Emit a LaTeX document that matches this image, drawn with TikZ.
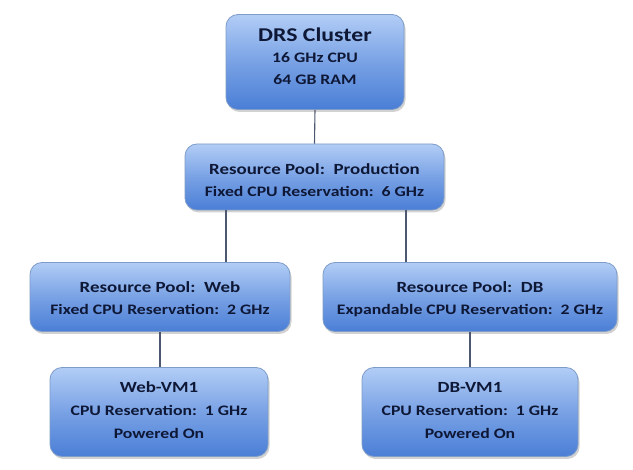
\documentclass[tikz,border=0pt]{standalone}
\usepackage{fontspec}
\setmainfont{Carlito}
\usetikzlibrary{shadows}
\definecolor{boxtop}{HTML}{B2CDF6}
\definecolor{boxbot}{HTML}{4A7ED6}
\definecolor{boxedge}{HTML}{7E9CC8}
\definecolor{txt}{HTML}{0E1836}
\definecolor{conn}{HTML}{4C5870}
\newcommand{\wtxt}[1]{\scalebox{1.22}[1]{#1}}
\tikzset{
  poolbox/.style={draw=boxedge, line width=0.8pt, rounded corners=12pt,
    top color=boxtop, bottom color=boxbot, middle color=boxtop!45!boxbot,
    drop shadow={opacity=0.35, shadow xshift=1.5pt, shadow yshift=-2.5pt},
    inner sep=0pt},
  title/.style={anchor=base, inner sep=0pt, text=txt, font=\bfseries\fontsize{15.5}{18}\selectfont},
  big/.style={anchor=base, inner sep=0pt, text=txt, font=\bfseries\fontsize{19.5}{22}\selectfont},
  detail/.style={anchor=base, inner sep=0pt, text=txt, font=\bfseries\fontsize{14.5}{17}\selectfont},
  link/.style={draw=conn, line width=1.1pt}
}
\begin{document}
\begin{tikzpicture}[x=1pt,y=-1pt]
\useasboundingbox (0,0) rectangle (633,470);
\fill[white] (0,0) rectangle (633,470);
% boxes
\node[poolbox, minimum width=178pt, minimum height=95pt] (drs) at (315,62) {};
\node[poolbox, minimum width=259pt, minimum height=66pt] (prod) at (314.5,177) {};
\node[poolbox, minimum width=260pt, minimum height=69pt] (web) at (160,297) {};
\node[poolbox, minimum width=294pt, minimum height=69pt] (db) at (470,297) {};
\node[poolbox, minimum width=218pt, minimum height=89pt] (webvm) at (159,412) {};
\node[poolbox, minimum width=216pt, minimum height=89pt] (dbvm) at (470,412) {};
% texts
\node[big]    (drs1) at (315,41.5) {\wtxt{DRS Cluster}};
\node[detail] (drs2) at (315,62.5) {\wtxt{16 GHz CPU}};
\node[detail] (drs3) at (315,84.5) {\wtxt{64 GB RAM}};
\node[title]  (prod1) at (314.5,175) {\wtxt{Resource Pool:\ \ Production}};
\node[detail] (prod2) at (314.5,196.5) {\wtxt{Fixed CPU Reservation:\ \ 6 GHz}};
\node[title]  (web1) at (160,293) {\wtxt{Resource Pool:\ \ Web}};
\node[detail] (web2) at (160,314.5) {\wtxt{Fixed CPU Reservation:\ \ 2 GHz}};
\node[title]  (db1) at (470,293) {\wtxt{Resource Pool:\ \ DB}};
\node[detail] (db2) at (470,314.5) {\wtxt{Expandable CPU Reservation:\ \ 2 GHz}};
\node[title]  (wv1) at (159,393) {\wtxt{Web-VM1}};
\node[detail] (wv2) at (159,415.5) {\wtxt{CPU Reservation:\ \ 1 GHz}};
\node[detail] (wv3) at (159,438.5) {\wtxt{Powered On}};
\node[title]  (dv1) at (470,393) {\wtxt{DB-VM1}};
\node[detail] (dv2) at (470,415.5) {\wtxt{CPU Reservation:\ \ 1 GHz}};
\node[detail] (dv3) at (470,438.5) {\wtxt{Powered On}};
% connectors
\draw[link] (drs.south) -- (prod.north);
\coordinate (pw) at (226,210);
\coordinate (pd) at (406,210);
\draw[link] (pw |- prod.south) -- (pw |- web.north);
\draw[link] (pd |- prod.south) -- (pd |- db.north);
\draw[link] (web.south) -- (webvm.north -| web.south);
\draw[link] (db.south) -- (dbvm.north -| db.south);
\end{tikzpicture}
\end{document}
